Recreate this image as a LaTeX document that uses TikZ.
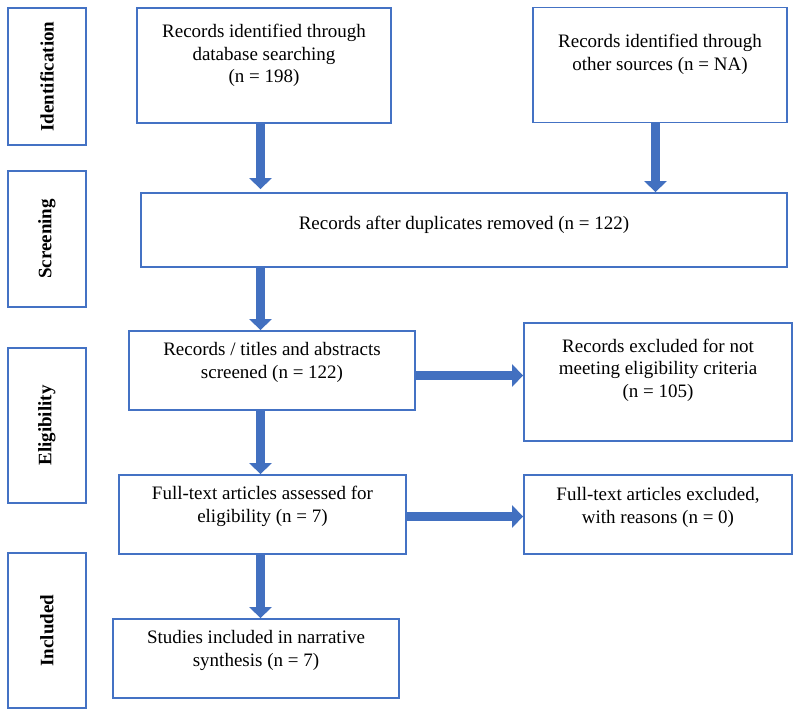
\documentclass[tikz,border=0pt]{standalone}
\usepackage{fontspec}
\usepackage{graphicx}
\setmainfont{Liberation Serif}
\usetikzlibrary{arrows.meta,positioning}

\definecolor{boxblue}{HTML}{4472C4}
\definecolor{arrowblue}{HTML}{4270C0}

\tikzset{
	stage/.style={draw=boxblue, line width=1.8pt, minimum width=78pt, inner sep=0pt, font=\bfseries\fontsize{19}{22}\selectfont},
	box/.style={draw=boxblue, line width=1.8pt, inner sep=0pt},
	boxtext/.style={align=center, inner sep=0pt, font=\fontsize{19}{22.5}\selectfont},
	fat/.style={draw=arrowblue, line width=9pt, -{Triangle[length=11pt,width=22pt]}},
}

\begin{document}
\begin{tikzpicture}[x=1pt,y=-1pt]
	\useasboundingbox (0,0) rectangle (800,716);
	
	% stages on the left
	\node[stage, minimum height=137pt] (ident) at (47,76.5) {\rotatebox{90}{Identification}};
	\node[stage, minimum height=136pt] (screen) at (47,239) {\rotatebox{90}{Screening}};
	\node[stage, minimum height=155pt] (elig) at (47,425.5) {\rotatebox{90}{Eligibility}};
	\node[stage, minimum height=155pt] (incl) at (47,630.5) {\rotatebox{90}{Included}};
	
	% boxes
	\node[box, minimum width=254pt, minimum height=115pt] (db) at (264,65.5) {};
	\node[box, minimum width=254pt, minimum height=115pt] (other) at (660,65) {};
	\node[box, minimum width=646pt, minimum height=74pt] (dup) at (464,230) {};
	\node[box, minimum width=286pt, minimum height=79pt] (scr) at (272,370.5) {};
	\node[box, minimum width=268pt, minimum height=118pt] (excl) at (658,382) {};
	\node[box, minimum width=287pt, minimum height=79pt] (ft) at (262.5,514.5) {};
	\node[box, minimum width=268pt, minimum height=79pt] (ftex) at (658,514.5) {};
	\node[box, minimum width=286pt, minimum height=79pt] (inc) at (256,658.5) {};
	
	% texts
	\node[boxtext] (dbtext) at ([yshift=10pt]db.center) {Records identified through\\database searching\\(n = 198)};
	\node[boxtext] (othertext) at ([yshift=10.5pt]other.center) {Records identified through\\other sources (n = NA)};
	\node[boxtext] (duptext) at ([yshift=5pt]dup.center) {Records after duplicates removed (n = 122)};
	\node[boxtext] (scrtext) at ([yshift=8pt]scr.center) {Records / titles and abstracts\\screened (n = 122)};
	\node[boxtext] (excltext) at ([yshift=12pt]excl.center) {Records excluded for not\\meeting eligibility criteria\\(n = 105)};
	\node[boxtext] (fttext) at ([yshift=8pt]ft.center) {Full-text articles assessed for\\eligibility (n = 7)};
	\node[boxtext] (ftextext) at ([yshift=7pt]ftex.center) {Full-text articles excluded,\\with reasons (n = 0)};
	\node[boxtext] (inctext) at ([yshift=8pt]inc.center) {Studies included in narrative\\synthesis (n = 7)};
	
	% arrows
	\coordinate (col) at (260.5,0);
	\coordinate (col2) at (655.5,0);
	\draw[fat, shorten >=3pt] (db.south -| col) -- (col |- dup.north);
	\draw[fat] (other.south -| col2) -- (col2 |- dup.north);
	\draw[fat] (dup.south -| col) -- (col |- scr.north);
	\draw[fat] ([yshift=-5pt]scr.east) -- ([yshift=-5pt]scr.east -| excl.west);
	\draw[fat] (scr.south -| col) -- (col |- ft.north);
	\draw[fat] ([yshift=-2pt]ft.east) -- ([yshift=-2pt]ft.east -| ftex.west);
	\draw[fat] (ft.south -| col) -- (col |- inc.north);
	
\end{tikzpicture}
\end{document}
